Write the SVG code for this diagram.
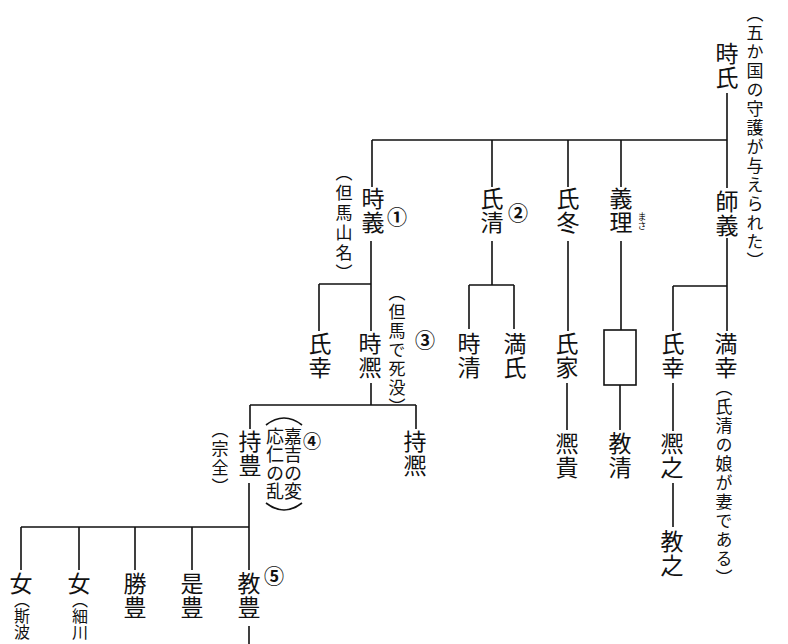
<svg xmlns="http://www.w3.org/2000/svg" width="788" height="644" viewBox="0 0 788 644">
<style>
.v{writing-mode:vertical-rl;font-family:"Noto Sans CJK JP","Noto Sans CJK SC",sans-serif;fill:#111}
.n{font-size:23px;letter-spacing:1px}
.a{font-size:17px;letter-spacing:2px}
.c{font-family:"Noto Sans CJK JP","Noto Sans CJK SC",sans-serif;fill:#111;font-size:20px;font-weight:700;text-anchor:middle}
.l{stroke:#111;stroke-width:1.6;fill:none}
</style>
<rect width="788" height="644" fill="#fff"/>
<g id="connectors" class="l">
<path d="M727 93V188M372 140H727M372 140V187M492 140V187M568 140V187M621 140V187"/>
<path d="M371 241V331M319 284H371M319 284V331"/>
<path d="M492 241V285M469 285H514M469 285V329M514 285V329"/>
<path d="M568 241V331M567 383V430"/>
<path d="M621 241V330M620 385V430"/>
<rect x="604" y="330" width="32" height="55"/>
<path d="M727 238V331M673 286H727M673 286V331M673 383V431M673 483V527"/>
<path d="M371 383V405M250 405H416M250 405V429M416 405V429"/>
<path d="M249 483V527M21 527H249M21 527V570M79 527V570M135 527V570M192 527V570M249 527V570M249 626V644"/>
<path d="M266 425Q284 411 302 425M266 503Q284 517 302 503"/>
</g>
<g id="n-tokiuji"><text class="v n" x="727" y="42">時氏</text><text class="v a" x="755" y="5">（五か国の守護が与えられた）</text></g>
<g id="n-yoroshi"><text class="v n" x="727" y="190">師義</text></g>
<g id="n-tokiyoshi"><text class="v n" x="373" y="187">時義</text><text class="c" x="397" y="225">①</text><text class="v a" x="344" y="164" style="letter-spacing:3px">（但馬山名）</text></g>
<g id="n-ujikiyo"><text class="v n" x="492" y="187">氏清</text><text class="c" x="518" y="221">②</text></g>
<g id="n-ujifuyu"><text class="v n" x="568" y="187">氏冬</text></g>
<g id="n-yoshimasa"><text class="v n" x="621" y="187">義理</text><text class="v" x="642" y="212" style="font-size:9px">まさ</text></g>
<g id="n-ujiyuki1"><text class="v n" x="320" y="332">氏幸</text></g>
<g id="n-tokihiro"><text class="v n" x="370" y="332">時凞</text><text class="v a" x="397" y="284">（但馬で死没）</text><text class="c" x="425" y="348">③</text></g>
<g id="n-tokikiyo"><text class="v n" x="469" y="332">時清</text></g>
<g id="n-mitsuuji"><text class="v n" x="515" y="332">満氏</text></g>
<g id="n-ujiie"><text class="v n" x="567" y="332">氏家</text></g>
<g id="n-ujiyuki2"><text class="v n" x="673" y="332">氏幸</text></g>
<g id="n-mitsuyuki"><text class="v n" x="726" y="332">満幸</text><text class="v a" x="724" y="379">（氏清の娘が妻である）</text></g>
<g id="n-hirotaka"><text class="v n" x="567" y="432">凞貴</text></g>
<g id="n-norikiyo"><text class="v n" x="620" y="432">教清</text></g>
<g id="n-hiroyuki"><text class="v n" x="672" y="432">凞之</text></g>
<g id="n-noriyuki"><text class="v n" x="672" y="530">教之</text></g>
<g id="n-mochitoyo"><text class="v n" x="250" y="430">持豊</text><text class="v a" x="220" y="421">（宗全）</text><text class="v" x="293" y="427" style="font-size:18px;letter-spacing:0.5px">嘉吉の変</text><text class="v" x="275" y="427" style="font-size:18px;letter-spacing:0.5px">応仁の乱</text><text class="c" x="312" y="448" style="font-size:18px">④</text></g>
<g id="n-mochihiro"><text class="v n" x="415" y="430">持凞</text></g>
<g id="n-onna1"><text class="v n" x="21" y="572">女</text><text class="v a" x="22" y="592" style="font-size:16px;letter-spacing:0">（斯波</text></g>
<g id="n-onna2"><text class="v n" x="79" y="572">女</text><text class="v a" x="80" y="592" style="font-size:16px;letter-spacing:0">（細川</text></g>
<g id="n-katsutoyo"><text class="v n" x="135" y="572">勝豊</text></g>
<g id="n-koretoyo"><text class="v n" x="192" y="572">是豊</text></g>
<g id="n-noritoyo"><text class="v n" x="249" y="572">教豊</text><text class="c" x="274" y="584">⑤</text></g>
</svg>
